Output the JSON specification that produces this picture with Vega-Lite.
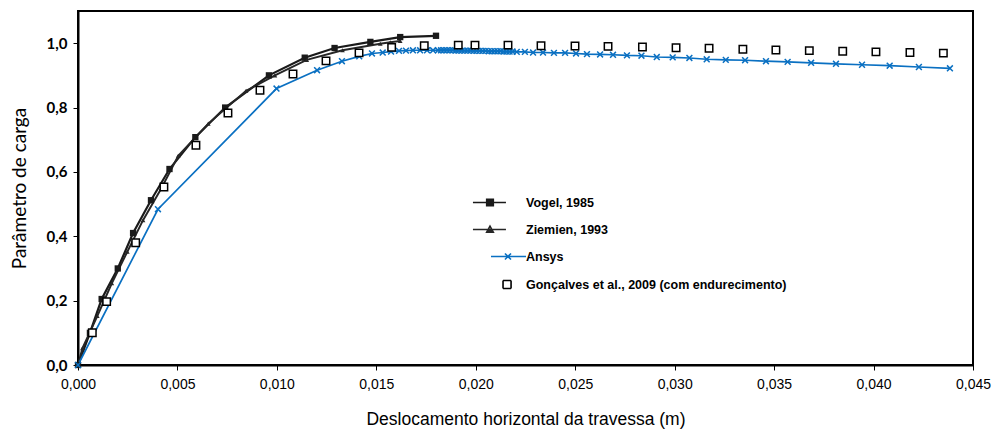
{
  "$schema": "https://vega.github.io/schema/vega-lite/v6.json",
  "width": 895,
  "height": 354,
  "autosize": "none",
  "padding": {"left": 78, "top": 11, "right": 20, "bottom": 67},
  "background": "white",
  "datasets": {
    "d": [
      {"s": "Vogel, 1985", "x": 0, "y": 0},
      {"s": "Vogel, 1985", "x": 0.0006, "y": 0.1},
      {"s": "Vogel, 1985", "x": 0.00119, "y": 0.205},
      {"s": "Vogel, 1985", "x": 0.002, "y": 0.3},
      {"s": "Vogel, 1985", "x": 0.00277, "y": 0.41},
      {"s": "Vogel, 1985", "x": 0.00367, "y": 0.512},
      {"s": "Vogel, 1985", "x": 0.0046, "y": 0.609},
      {"s": "Vogel, 1985", "x": 0.0059, "y": 0.708},
      {"s": "Vogel, 1985", "x": 0.0074, "y": 0.8},
      {"s": "Vogel, 1985", "x": 0.0096, "y": 0.9},
      {"s": "Vogel, 1985", "x": 0.0114, "y": 0.955},
      {"s": "Vogel, 1985", "x": 0.0129, "y": 0.985},
      {"s": "Vogel, 1985", "x": 0.0147, "y": 1.004},
      {"s": "Vogel, 1985", "x": 0.0162, "y": 1.019},
      {"s": "Vogel, 1985", "x": 0.018, "y": 1.023},
      {"s": "Ziemien, 1993", "x": 0, "y": 0},
      {"s": "Ziemien, 1993", "x": 0.00022, "y": 0.052},
      {"s": "Ziemien, 1993", "x": 0.00097, "y": 0.152},
      {"s": "Ziemien, 1993", "x": 0.0017, "y": 0.254},
      {"s": "Ziemien, 1993", "x": 0.00248, "y": 0.352},
      {"s": "Ziemien, 1993", "x": 0.00327, "y": 0.45},
      {"s": "Ziemien, 1993", "x": 0.0042, "y": 0.55},
      {"s": "Ziemien, 1993", "x": 0.00504, "y": 0.65},
      {"s": "Ziemien, 1993", "x": 0.00655, "y": 0.75},
      {"s": "Ziemien, 1993", "x": 0.00845, "y": 0.852},
      {"s": "Ziemien, 1993", "x": 0.0099, "y": 0.9},
      {"s": "Ziemien, 1993", "x": 0.0115, "y": 0.948},
      {"s": "Ziemien, 1993", "x": 0.0133, "y": 0.978},
      {"s": "Ziemien, 1993", "x": 0.0152, "y": 0.998},
      {"s": "Ziemien, 1993", "x": 0.0157, "y": 1.003},
      {"s": "Ziemien, 1993", "x": 0.0162, "y": 1.007},
      {"s": "Ansys", "x": 0, "y": 0},
      {"s": "Ansys", "x": 0.00402, "y": 0.484},
      {"s": "Ansys", "x": 0.00998, "y": 0.859},
      {"s": "Ansys", "x": 0.01202, "y": 0.916},
      {"s": "Ansys", "x": 0.01327, "y": 0.944},
      {"s": "Ansys", "x": 0.01414, "y": 0.959},
      {"s": "Ansys", "x": 0.01478, "y": 0.968},
      {"s": "Ansys", "x": 0.01532, "y": 0.971},
      {"s": "Ansys", "x": 0.01574, "y": 0.974},
      {"s": "Ansys", "x": 0.01614, "y": 0.976},
      {"s": "Ansys", "x": 0.01649, "y": 0.977},
      {"s": "Ansys", "x": 0.01684, "y": 0.978},
      {"s": "Ansys", "x": 0.0172, "y": 0.978},
      {"s": "Ansys", "x": 0.01755, "y": 0.978},
      {"s": "Ansys", "x": 0.01785, "y": 0.978},
      {"s": "Ansys", "x": 0.0181, "y": 0.978},
      {"s": "Ansys", "x": 0.01825, "y": 0.978},
      {"s": "Ansys", "x": 0.0184, "y": 0.978},
      {"s": "Ansys", "x": 0.01855, "y": 0.978},
      {"s": "Ansys", "x": 0.0187, "y": 0.978},
      {"s": "Ansys", "x": 0.01885, "y": 0.978},
      {"s": "Ansys", "x": 0.019, "y": 0.977},
      {"s": "Ansys", "x": 0.01915, "y": 0.977},
      {"s": "Ansys", "x": 0.0193, "y": 0.977},
      {"s": "Ansys", "x": 0.01945, "y": 0.977},
      {"s": "Ansys", "x": 0.0196, "y": 0.977},
      {"s": "Ansys", "x": 0.01975, "y": 0.977},
      {"s": "Ansys", "x": 0.0199, "y": 0.976},
      {"s": "Ansys", "x": 0.02005, "y": 0.976},
      {"s": "Ansys", "x": 0.0202, "y": 0.976},
      {"s": "Ansys", "x": 0.02035, "y": 0.976},
      {"s": "Ansys", "x": 0.0205, "y": 0.976},
      {"s": "Ansys", "x": 0.02065, "y": 0.975},
      {"s": "Ansys", "x": 0.0208, "y": 0.975},
      {"s": "Ansys", "x": 0.02095, "y": 0.975},
      {"s": "Ansys", "x": 0.0211, "y": 0.975},
      {"s": "Ansys", "x": 0.02125, "y": 0.975},
      {"s": "Ansys", "x": 0.0214, "y": 0.974},
      {"s": "Ansys", "x": 0.02155, "y": 0.974},
      {"s": "Ansys", "x": 0.0217, "y": 0.974},
      {"s": "Ansys", "x": 0.02185, "y": 0.974},
      {"s": "Ansys", "x": 0.02206, "y": 0.973},
      {"s": "Ansys", "x": 0.02247, "y": 0.973},
      {"s": "Ansys", "x": 0.02288, "y": 0.971},
      {"s": "Ansys", "x": 0.02338, "y": 0.971},
      {"s": "Ansys", "x": 0.02393, "y": 0.97},
      {"s": "Ansys", "x": 0.02449, "y": 0.97},
      {"s": "Ansys", "x": 0.02504, "y": 0.968},
      {"s": "Ansys", "x": 0.02559, "y": 0.966},
      {"s": "Ansys", "x": 0.02625, "y": 0.965},
      {"s": "Ansys", "x": 0.0269, "y": 0.964},
      {"s": "Ansys", "x": 0.0276, "y": 0.962},
      {"s": "Ansys", "x": 0.02833, "y": 0.961},
      {"s": "Ansys", "x": 0.0291, "y": 0.957},
      {"s": "Ansys", "x": 0.0299, "y": 0.956},
      {"s": "Ansys", "x": 0.03074, "y": 0.954},
      {"s": "Ansys", "x": 0.03161, "y": 0.95},
      {"s": "Ansys", "x": 0.03257, "y": 0.948},
      {"s": "Ansys", "x": 0.03354, "y": 0.947},
      {"s": "Ansys", "x": 0.03459, "y": 0.944},
      {"s": "Ansys", "x": 0.03568, "y": 0.942},
      {"s": "Ansys", "x": 0.03686, "y": 0.939},
      {"s": "Ansys", "x": 0.03811, "y": 0.936},
      {"s": "Ansys", "x": 0.03942, "y": 0.933},
      {"s": "Ansys", "x": 0.04081, "y": 0.93},
      {"s": "Ansys", "x": 0.04228, "y": 0.926},
      {"s": "Ansys", "x": 0.04384, "y": 0.922},
      {"s": "Gonçalves et al., 2009 (com endurecimento)", "x": 0.00072, "y": 0.1},
      {"s": "Gonçalves et al., 2009 (com endurecimento)", "x": 0.00144, "y": 0.197},
      {"s": "Gonçalves et al., 2009 (com endurecimento)", "x": 0.0029, "y": 0.38},
      {"s": "Gonçalves et al., 2009 (com endurecimento)", "x": 0.00432, "y": 0.553},
      {"s": "Gonçalves et al., 2009 (com endurecimento)", "x": 0.00593, "y": 0.683},
      {"s": "Gonçalves et al., 2009 (com endurecimento)", "x": 0.00754, "y": 0.783},
      {"s": "Gonçalves et al., 2009 (com endurecimento)", "x": 0.00915, "y": 0.854},
      {"s": "Gonçalves et al., 2009 (com endurecimento)", "x": 0.01081, "y": 0.904},
      {"s": "Gonçalves et al., 2009 (com endurecimento)", "x": 0.01247, "y": 0.945},
      {"s": "Gonçalves et al., 2009 (com endurecimento)", "x": 0.01413, "y": 0.97},
      {"s": "Gonçalves et al., 2009 (com endurecimento)", "x": 0.01577, "y": 0.987},
      {"s": "Gonçalves et al., 2009 (com endurecimento)", "x": 0.01741, "y": 0.992},
      {"s": "Gonçalves et al., 2009 (com endurecimento)", "x": 0.01912, "y": 0.994},
      {"s": "Gonçalves et al., 2009 (com endurecimento)", "x": 0.01996, "y": 0.994},
      {"s": "Gonçalves et al., 2009 (com endurecimento)", "x": 0.02162, "y": 0.994},
      {"s": "Gonçalves et al., 2009 (com endurecimento)", "x": 0.02328, "y": 0.992},
      {"s": "Gonçalves et al., 2009 (com endurecimento)", "x": 0.02499, "y": 0.991},
      {"s": "Gonçalves et al., 2009 (com endurecimento)", "x": 0.02665, "y": 0.99},
      {"s": "Gonçalves et al., 2009 (com endurecimento)", "x": 0.02838, "y": 0.988},
      {"s": "Gonçalves et al., 2009 (com endurecimento)", "x": 0.03007, "y": 0.986},
      {"s": "Gonçalves et al., 2009 (com endurecimento)", "x": 0.03173, "y": 0.984},
      {"s": "Gonçalves et al., 2009 (com endurecimento)", "x": 0.03343, "y": 0.981},
      {"s": "Gonçalves et al., 2009 (com endurecimento)", "x": 0.03509, "y": 0.979},
      {"s": "Gonçalves et al., 2009 (com endurecimento)", "x": 0.03677, "y": 0.977},
      {"s": "Gonçalves et al., 2009 (com endurecimento)", "x": 0.03845, "y": 0.975},
      {"s": "Gonçalves et al., 2009 (com endurecimento)", "x": 0.04012, "y": 0.973},
      {"s": "Gonçalves et al., 2009 (com endurecimento)", "x": 0.04183, "y": 0.971},
      {"s": "Gonçalves et al., 2009 (com endurecimento)", "x": 0.04351, "y": 0.969}
    ]
  },
  "data": {"name": "d"},
  "encoding": {
    "x": {
      "field": "x", "type": "quantitative",
      "scale": {"domain": [0, 0.045], "nice": false},
      "axis": {
        "values": [0, 0.005, 0.01, 0.015, 0.02, 0.025, 0.03, 0.035, 0.04, 0.045],
        "labelExpr": "replace(format(datum.value, '.3f'), '.', ',')",
        "title": "Deslocamento horizontal da travessa (m)",
        "titleFont": "Liberation Sans", "titleFontSize": 17.5, "titleFontWeight": "normal",
        "titleY": 45, "titleBaseline": "top",
        "labelFont": "Liberation Sans", "labelFontSize": 14, "labelPadding": 7,
        "labelFlush": false, "labelOverlap": false,
        "tickSize": 5, "grid": false
      }
    },
    "y": {
      "field": "y", "type": "quantitative",
      "scale": {"domain": [0, 1.1], "nice": false},
      "axis": {
        "values": [0, 0.2, 0.4, 0.6, 0.8, 1.0],
        "labelExpr": "replace(format(datum.value, '.1f'), '.', ',')",
        "title": "Parâmetro de carga",
        "titleFont": "Lato", "titleFontSize": 19, "titleFontWeight": "normal",
        "titleX": -59, "titleY": 177, "titleAngle": -90, "titleBaseline": "middle", "titleAlign": "center",
        "labelFont": "Lato", "labelFontSize": 15, "labelFontWeight": "bold", "labelPadding": 6,
        "labelFlush": false, "labelOverlap": false,
        "tickSize": 5, "grid": false
      }
    }
  },
  "layer": [
    {
      "transform": [{"filter": "datum.s !== 'Gonçalves et al., 2009 (com endurecimento)'"}],
      "mark": {"type": "line"},
      "encoding": {
        "color": {
          "field": "s", "type": "nominal",
          "scale": {
            "domain": ["Vogel, 1985", "Ziemien, 1993", "Ansys", "Gonçalves et al., 2009 (com endurecimento)"],
            "range": ["#1a1a1a", "#262626", "#0a70c2", "#000000"]
          },
          "legend": {
            "orient": "none", "legendX": 405.5, "legendY": 185, "title": null,
            "symbolSize": 121, "labelOffset": 29.5, "labelFontSize": 12.5, "labelFont": "Liberation Sans",
            "labelFontWeight": "bold", "rowPadding": 14,
            "labelLimit": 400, "padding": 0, "symbolStrokeWidth": 1.6, "symbolOpacity": 1,
            "labelColor": "black"
          }
        },
        "strokeWidth": {
          "field": "s", "type": "nominal",
          "scale": {"domain": ["Vogel, 1985", "Ziemien, 1993", "Ansys"], "range": [2.2, 1.7, 1.4]},
          "legend": null
        }
      }
    },
    {
      "mark": {"type": "point", "filled": false, "opacity": 0},
      "encoding": {
        "color": {"field": "s", "type": "nominal"},
        "shape": {
          "field": "s", "type": "nominal",
          "scale": {
            "domain": ["Vogel, 1985", "Ziemien, 1993", "Ansys", "Gonçalves et al., 2009 (com endurecimento)"],
            "range": [
              "M-3.1,0H2.9M-0.6,-0.6H0.6V0.6H-0.6ZM-0.6,-0.3H0.6M-0.6,0.3H0.6",
              "M-3.1,0H2.9M-0.6,0.5L0,-0.6L0.6,0.5ZM-0.3,0H0.3M-0.45,0.25H0.45",
              "M0.18,0H6.55M2.72,-0.55L3.82,0.55M2.72,0.55L3.82,-0.55",
              "M2.37,-0.73H3.83M3.83,-0.73V0.73M3.83,0.73H2.37M2.37,0.73V-0.73"
            ]
          },
          "legend": {
            "orient": "none", "legendX": 405.5, "legendY": 185, "title": null,
            "symbolSize": 121, "labelOffset": 29.5, "labelFontSize": 12.5, "labelFont": "Liberation Sans",
            "labelFontWeight": "bold", "rowPadding": 14,
            "labelLimit": 400, "padding": 0, "symbolStrokeWidth": 1.6, "symbolOpacity": 1,
            "labelColor": "black"
          }
        }
      }
    },
    {
      "transform": [{"filter": "datum.s === 'Vogel, 1985'"}],
      "mark": {"type": "point", "shape": "square", "filled": true, "color": "#1a1a1a", "size": 40, "opacity": 1}
    },
    {
      "transform": [{"filter": "datum.s === 'Ziemien, 1993'"}],
      "mark": {"type": "point", "shape": "triangle-up", "filled": true, "color": "#262626", "size": 22, "opacity": 1}
    },
    {
      "transform": [{"filter": "datum.s === 'Ansys'"}],
      "mark": {"type": "point", "shape": "M-1,-1L1,1M-1,1L1,-1", "filled": false, "color": "#0a70c2", "strokeWidth": 1.5, "size": 34, "opacity": 1}
    },
    {
      "transform": [{"filter": "datum.s === 'Gonçalves et al., 2009 (com endurecimento)'"}],
      "mark": {"type": "point", "shape": "square", "filled": true, "fill": "white", "stroke": "black", "strokeWidth": 1.5, "size": 55, "opacity": 1}
    }
  ],
  "config": {
    "view": {"stroke": "black", "strokeWidth": 2},
    "axis": {"domainColor": "black", "domainWidth": 2, "tickColor": "black", "labelColor": "black", "titleColor": "black"}
  }
}
